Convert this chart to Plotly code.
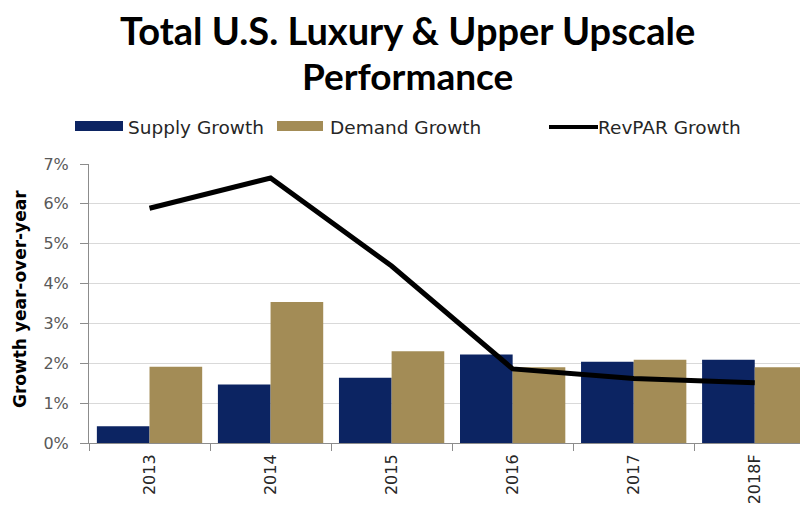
import plotly.graph_objects as go

categories = ["2013", "2014", "2015", "2016", "2017", "2018F"]
supply_growth = [0.42, 1.47, 1.64, 2.22, 2.04, 2.09]
demand_growth = [1.91, 3.54, 2.30, 1.90, 2.09, 1.90]
revpar_growth = [5.89, 6.65, 4.44, 1.86, 1.62, 1.51]
y_ticks = [0, 1, 2, 3, 4, 5, 6, 7]
y_tick_labels = ["0%", "1%", "2%", "3%", "4%", "5%", "6%", "7%"]
title_lines = ["Total U.S. Luxury & Upper Upscale", "Performance"]

NAVY = "#0c2462"
GOLD = "#a38c56"

fig = go.Figure()
fig.add_trace(go.Bar(x=categories, y=supply_growth, name="Supply Growth",
                     marker=dict(color=NAVY, line=dict(width=0))))
fig.add_trace(go.Bar(x=categories, y=demand_growth, name="Demand Growth",
                     marker=dict(color=GOLD, line=dict(width=0))))
fig.add_trace(go.Scatter(x=categories, y=revpar_growth, name="RevPAR Growth",
                         mode="lines", line=dict(color="black", width=5)))

# page body has an 8px margin, so the figure is 8px smaller than the window
W, H = 800, 508
L, R, T, B = 81, 0, 156, 73
OFF = 8
PLOT_W = W - L - R
PLOT_H = H - T - B


def px(img_x):
    return (img_x - OFF - L) / PLOT_W


def py(img_y):
    return (H - B - (img_y - OFF)) / PLOT_H


fig.update_layout(
    width=W, height=H,
    margin=dict(l=L, r=R, t=T, b=B, autoexpand=False),
    paper_bgcolor="white", plot_bgcolor="white",
    barmode="group", bargap=0.13, bargroupgap=0,
    showlegend=False,
    font=dict(family="DejaVu Sans", color="#404040"),
)

for line_text, cy, size in [(title_lines[0], 30, 38), (title_lines[1], 75, 37)]:
    fig.add_annotation(text=line_text,
                       xref="paper", yref="paper", x=px(407), y=py(cy),
                       xanchor="center", yanchor="middle", showarrow=False,
                       font=dict(family="Lato", size=size, color="black", weight="bold"))

fig.update_xaxes(
    type="category", range=[-0.5, 5.44],
    showline=True, linecolor="#8c8c8c", linewidth=1,
    ticks="outside", tickson="boundaries", ticklen=7, tickcolor="#8c8c8c",
    ticklabelstandoff=4,
    tickangle=-90, tickfont=dict(family="DejaVu Sans", size=16, color="#262626"),
    showgrid=False,
)
fig.update_yaxes(
    range=[0, 7], tickvals=y_ticks, ticktext=y_tick_labels,
    showline=True, linecolor="#8c8c8c", linewidth=1,
    ticks="outside", ticklen=8, tickcolor="#8c8c8c",
    ticklabelstandoff=8,
    showgrid=True, gridcolor="#d9d9d9", gridwidth=1,
    zeroline=False,
    tickfont=dict(family="DejaVu Sans", size=16, color="#595959"),
)

# rotated y-axis title
fig.add_annotation(text="Growth year-over-year", xref="paper", yref="paper",
                   x=px(20), y=py(299), xanchor="center", yanchor="middle",
                   textangle=-90, showarrow=False,
                   font=dict(family="DejaVu Sans", size=17, color="black", weight="bold"))

# custom legend
legend_items = [
    ("bar", NAVY, 75, 123, "Supply Growth", 126),
    ("bar", GOLD, 277, 323, "Demand Growth", 328),
    ("line", "black", 549, 598, "RevPAR Growth", 596),
]
for kind, color, x0, x1, label, tx in legend_items:
    if kind == "bar":
        fig.add_shape(type="rect", xref="paper", yref="paper",
                      x0=px(x0), x1=px(x1), y0=py(131), y1=py(121),
                      fillcolor=color, line=dict(width=0))
    else:
        fig.add_shape(type="line", xref="paper", yref="paper",
                      x0=px(x0), x1=px(x1), y0=py(127), y1=py(127),
                      line=dict(color=color, width=4))
    fig.add_annotation(text=label, xref="paper", yref="paper",
                       x=px(tx), y=py(127), xanchor="left", yanchor="middle",
                       showarrow=False,
                       font=dict(family="DejaVu Sans", size=18.5, color="#262626"))

fig.write_html("out.html")
